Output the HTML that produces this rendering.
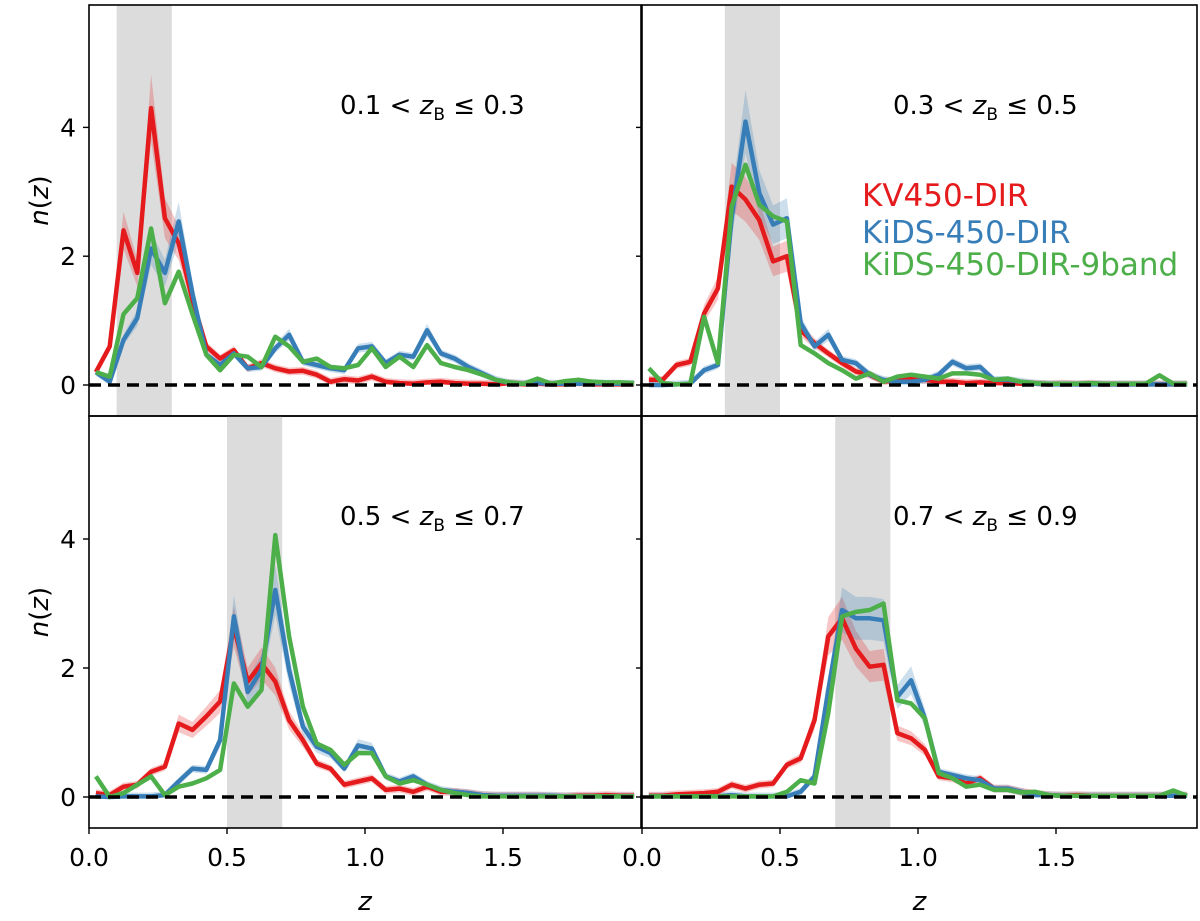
<!DOCTYPE html>
<html><head><meta charset="utf-8"><style>
html,body{margin:0;padding:0;background:#fff;}
svg{display:block;font-family:"DejaVu Sans","Liberation Sans",sans-serif;}
</style></head><body>
<svg id="chart" width="1200" height="921" viewBox="0 0 1200 921" xmlns="http://www.w3.org/2000/svg"></svg>
<script>
const zBins = [0.025,0.075,0.125,0.175,0.225,0.275,0.325,0.375,0.425,0.475,0.525,0.575,0.625,0.675,0.725,0.775,0.825,0.875,0.925,0.975,1.025,1.075,1.125,1.175,1.225,1.275,1.325,1.375,1.425,1.475,1.525,1.575,1.625,1.675,1.725,1.775,1.825,1.875,1.925,1.975];
const panelLabels = ["0.1","0.3","0.3","0.5","0.5","0.7","0.7","0.9"];
const bandLo = [0.1,0.3,0.5,0.7];
const bandHi = [0.3,0.5,0.7,0.9];
const xTicks = [0.0,0.5,1.0,1.5];
const yTicks = [0,2,4];
const seriesNames = ["KV450-DIR","KiDS-450-DIR","KiDS-450-DIR-9band"];

const p1Red = [0.2,0.6,2.4,1.74,4.3,2.59,2.2,1.32,0.6,0.41,0.54,0.26,0.34,0.26,0.21,0.22,0.16,0.05,0.09,0.07,0.13,0.05,0.03,0.02,0.04,0.05,0.03,0.02,0.02,0.01,0.03,0.01,0.02,0.01,0.01,0.02,0.01,0.01,0.01,0.01];
const p1Blue = [0.2,0.05,0.7,1.04,2.12,1.74,2.54,1.42,0.47,0.31,0.49,0.26,0.28,0.57,0.78,0.36,0.31,0.26,0.23,0.57,0.6,0.34,0.47,0.44,0.85,0.49,0.41,0.28,0.18,0.08,0.03,0.02,0.03,0.02,0.02,0.02,0.03,0.02,0.02,0.02];
const p1Green = [0.2,0.13,1.1,1.35,2.43,1.27,1.76,1.1,0.47,0.23,0.47,0.44,0.28,0.75,0.6,0.36,0.41,0.28,0.26,0.31,0.57,0.28,0.44,0.28,0.62,0.34,0.28,0.23,0.16,0.08,0.04,0.02,0.1,0.02,0.06,0.08,0.05,0.04,0.04,0.03];

const p2Red = [0.08,0.08,0.31,0.36,1.11,1.5,3.08,2.88,2.56,1.92,2.0,0.85,0.65,0.49,0.34,0.21,0.16,0.05,0.08,0.1,0.08,0.05,0.05,0.03,0.04,0.03,0.03,0.02,0.02,0.01,0.02,0.01,0.02,0.01,0.01,0.01,0.01,0.01,0.01,0.01];
const p2Blue = [0,0,0.01,0.02,0.23,0.31,2.6,4.09,2.98,2.49,2.59,0.96,0.6,0.78,0.39,0.34,0.16,0.08,0.05,0.05,0.08,0.16,0.36,0.26,0.28,0.08,0.08,0.05,0.02,0.01,0.01,0.01,0.01,0.01,0.01,0.01,0.01,0.01,0.01,0.01];
const p2Green = [0.26,0.03,0.01,0.02,1.06,0.34,2.77,3.42,2.8,2.62,2.54,0.62,0.49,0.34,0.23,0.1,0.18,0.05,0.13,0.16,0.13,0.1,0.18,0.18,0.16,0.08,0.1,0.05,0.03,0.02,0.02,0.02,0.03,0.02,0.02,0.02,0.02,0.15,0.02,0.02];

const p3Red = [0.06,0.03,0.16,0.19,0.39,0.47,1.14,1.04,1.25,1.48,2.64,1.79,2.07,1.79,1.19,0.88,0.52,0.44,0.19,0.24,0.29,0.11,0.13,0.08,0.16,0.08,0.08,0.06,0.03,0.02,0.02,0.02,0.02,0.01,0.01,0.02,0.02,0.03,0.02,0.02];
const p3Blue = [0.01,0,0.01,0.01,0.01,0.03,0.24,0.44,0.42,0.88,2.8,1.63,1.97,3.21,1.97,1.09,0.78,0.68,0.44,0.8,0.75,0.32,0.24,0.32,0.19,0.11,0.08,0.06,0.03,0.02,0.02,0.02,0.02,0.02,0.01,0.01,0.01,0.01,0.01,0.01];
const p3Green = [0.32,0,0.06,0.19,0.32,0.03,0.16,0.21,0.29,0.42,1.76,1.4,1.66,4.06,2.49,1.4,0.83,0.73,0.5,0.68,0.68,0.32,0.21,0.26,0.19,0.11,0.06,0.03,0.01,0.01,0.01,0.01,0.01,0.01,0.01,0.01,0.01,0.01,0.01,0.01];

const p4Red = [0.02,0.02,0.04,0.05,0.06,0.08,0.19,0.13,0.19,0.21,0.5,0.6,1.19,2.49,2.77,2.3,2.02,2.05,0.99,0.91,0.73,0.32,0.29,0.21,0.29,0.13,0.13,0.08,0.05,0.03,0.02,0.03,0.02,0.02,0.02,0.02,0.02,0.02,0.02,0.02];
const p4Blue = [0.01,0.01,0.01,0.01,0.01,0.01,0.03,0.01,0.01,0.01,0.01,0.08,0.32,1.66,2.9,2.77,2.77,2.74,1.55,1.81,1.22,0.39,0.34,0.29,0.26,0.13,0.13,0.08,0.03,0.03,0.02,0.02,0.02,0.02,0.02,0.02,0.02,0.02,0.02,0.02];
const p4Green = [0.01,0.01,0.01,0.01,0.01,0.01,0.01,0.01,0.01,0.01,0.08,0.26,0.21,1.3,2.8,2.87,2.9,3.0,1.5,1.45,1.22,0.37,0.29,0.16,0.19,0.11,0.11,0.07,0.08,0.03,0.02,0.02,0.02,0.02,0.02,0.02,0.02,0.02,0.1,0.02];

const svg = document.getElementById('chart');
const NS = 'http://www.w3.org/2000/svg';
function mk(tag, attrs, parent){const e=document.createElementNS(NS,tag);for(const k in attrs)e.setAttribute(k,attrs[k]);(parent||svg).appendChild(e);return e;}

const colors = ["#e41a1c","#377eb8","#4daf4a"];
const panels = [
  {x0:89,x1:641,y0:5,y1:416,zeroY:385,unit:64.4,data:[p1Red,p1Blue,p1Green]},
  {x0:642,x1:1197,y0:5,y1:416,zeroY:385,unit:64.4,data:[p2Red,p2Blue,p2Green]},
  {x0:89,x1:641,y0:416,y1:828,zeroY:797,unit:64.5,data:[p3Red,p3Blue,p3Green]},
  {x0:642,x1:1197,y0:416,y1:828,zeroY:797,unit:64.5,data:[p4Red,p4Blue,p4Green]}
];
const XS = 276;
const defs = mk('defs',{});
panels.forEach((p,pi)=>{
  const xs = z => p.x0 + z*XS;
  const ys = v => p.zeroY - v*p.unit;
  const cp = mk('clipPath',{id:'clip'+pi},defs);
  mk('rect',{x:p.x0,y:p.y0,width:p.x1-p.x0,height:p.y1-p.y0},cp);
  const g = mk('g',{'clip-path':'url(#clip'+pi+')'});
  
  
  const band = mk('rect',{x:xs(bandLo[pi]),y:p.y0,width:xs(bandHi[pi])-xs(bandLo[pi]),height:p.y1-p.y0,fill:'#dcdcdc'},g);
  
  
  p.data.forEach((arr,si)=>{
    let up='',dn='';
    arr.forEach((v,i)=>{const e=Math.max(0.06,v*0.12);up+=(i?'L':'M')+xs(zBins[i]).toFixed(1)+','+ys(v+e).toFixed(1);});
    for(let i=arr.length-1;i>=0;i--){const v=arr[i];const e=Math.max(0.06,v*0.12);dn+='L'+xs(zBins[i]).toFixed(1)+','+ys(Math.max(0,v-e)).toFixed(1);}
    if(si<2){
      const b=mk('path',{d:up+dn+'Z',fill:colors[si],'fill-opacity':0.25,stroke:'none'},g);
      
      
    }
  });
  p.data.forEach((arr,si)=>{
    const d = arr.map((v,i)=>(i?'L':'M')+xs(zBins[i]).toFixed(1)+','+ys(v).toFixed(1)).join('');
    const l=mk('path',{d:d,fill:'none',stroke:colors[si],'stroke-width':4.5,'stroke-linejoin':'round'},g);
    
    
  });
  const zl=mk('line',{x1:p.x0,x2:p.x1,y1:p.zeroY,y2:p.zeroY,stroke:'#000','stroke-width':3.5,'stroke-dasharray':'12,7'},g);
  
  
  const fr=mk('rect',{x:p.x0,y:p.y0,width:p.x1-p.x0,height:p.y1-p.y0,fill:'none',stroke:'#000','stroke-width':1.6});
  
  
  yTicks.forEach(t=>{
    mk('line',{x1:p.x0-6,x2:p.x0,y1:ys(t),y2:ys(t),stroke:'#000','stroke-width':1.4});
    if(p.x0<100){
      const tx=mk('text',{x:p.x0-13,y:ys(t)+9,'text-anchor':'end','font-size':25,fill:'#000'});
      tx.textContent=t;
      
      
    }
  });
  if(p.y0>400){
    xTicks.forEach(t=>{
      mk('line',{x1:xs(t),x2:xs(t),y1:p.y1,y2:p.y1+6,stroke:'#000','stroke-width':1.4});
      const tx=mk('text',{x:xs(t),y:p.y1+38,'text-anchor':'middle','font-size':25,fill:'#000'});
      tx.textContent=t.toFixed(1);
      
      
    });
    const xl=mk('text',{x:(p.x0+p.x1)/2,y:p.y1+82,'text-anchor':'middle','font-size':26,'font-style':'italic',fill:'#000'});
    xl.textContent='z';
    
    
  }
  if(p.x0<100){
    const cy=(p.y0+p.y1)/2-10;
    const yl=mk('text',{x:0,y:0,'text-anchor':'middle','font-size':26,fill:'#000',transform:'translate(48,'+cy+') rotate(-90)'});
    yl.innerHTML='<tspan font-style="italic">n</tspan>(<tspan font-style="italic">z</tspan>)';
    
    
  }
  const lbl=mk('text',{x:p.x0+251,y:p.y0+109,'font-size':26,fill:'#000'});
  lbl.innerHTML=panelLabels[pi*2]+' &lt; <tspan font-style="italic">z</tspan><tspan font-size="17" dy="6">B</tspan><tspan dy="-6"> ≤ '+panelLabels[pi*2+1]+'</tspan>';
  
  
});
seriesNames.forEach((n,i)=>{
  const t=mk('text',{x:862,y:[206,243,275][i],'font-size':31,fill:colors[i]});
  t.textContent=n;
  
  
});
</script>
</body></html>
